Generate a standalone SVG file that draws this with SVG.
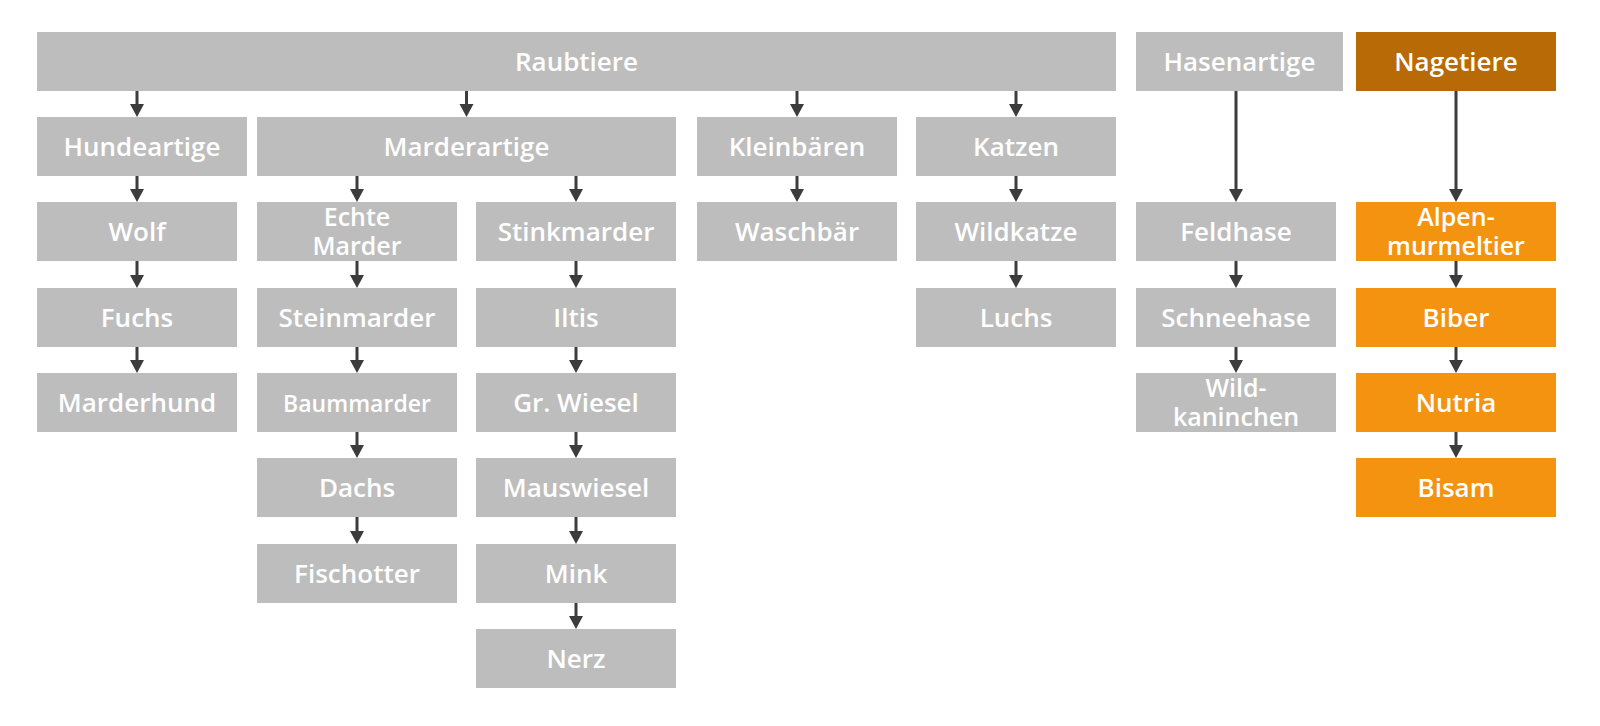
<svg xmlns="http://www.w3.org/2000/svg" width="1600" height="726" viewBox="0 0 1600 726">
<style>
.g{fill:#bdbdbd}
.o{fill:#f3930f}
.d{fill:#b86a06}
text{font-family:"Open Sans","Liberation Sans",sans-serif;font-weight:600;font-size:26px;fill:#ffffff;text-anchor:middle}
.t2{font-size:25px}
.ln{stroke:#3c3c3c;stroke-width:3;fill:none}
.ah{fill:#3c3c3c}
</style>
<rect width="1600" height="726" fill="#ffffff"/>
<g id="connectors">
<path class="ln" d="M137,91V106 M466.5,91V106 M797,91V106 M1016,91V106 M1236,91V191 M1456,91V191
M137,176V191 M137,261V277 M137,347V362
M357,176V191 M576,176V191
M357,261V277 M357,347V362 M357,432V447 M357,517V533
M576,261V277 M576,347V362 M576,432V447 M576,517V533 M576,603V618
M797,176V191 M1016,176V191 M1016,261V277
M1236,261V277 M1236,347V362
M1456,261V277 M1456,347V362 M1456,432V447"/>
<g class="ah">
<polygon points="130,104 144,104 137,117"/>
<polygon points="459.5,104 473.5,104 466.5,117"/>
<polygon points="790,104 804,104 797,117"/>
<polygon points="1009,104 1023,104 1016,117"/>
<polygon points="1229,189 1243,189 1236,202"/>
<polygon points="1449,189 1463,189 1456,202"/>
<polygon points="130,189 144,189 137,202"/>
<polygon points="130,275 144,275 137,288"/>
<polygon points="130,360 144,360 137,373"/>
<polygon points="350,189 364,189 357,202"/>
<polygon points="569,189 583,189 576,202"/>
<polygon points="350,275 364,275 357,288"/>
<polygon points="350,360 364,360 357,373"/>
<polygon points="350,445 364,445 357,458"/>
<polygon points="350,531 364,531 357,544"/>
<polygon points="569,275 583,275 576,288"/>
<polygon points="569,360 583,360 576,373"/>
<polygon points="569,445 583,445 576,458"/>
<polygon points="569,531 583,531 576,544"/>
<polygon points="569,616 583,616 576,629"/>
<polygon points="790,189 804,189 797,202"/>
<polygon points="1009,189 1023,189 1016,202"/>
<polygon points="1009,275 1023,275 1016,288"/>
<polygon points="1229,275 1243,275 1236,288"/>
<polygon points="1229,360 1243,360 1236,373"/>
<polygon points="1449,275 1463,275 1456,288"/>
<polygon points="1449,360 1463,360 1456,373"/>
<polygon points="1449,445 1463,445 1456,458"/>
</g>
</g>
<g id="raubtiere"><rect class="g" x="37" y="32" width="1079" height="59"/><text x="576.5" y="70.5">Raubtiere</text></g>
<g id="hasenartige"><rect class="g" x="1136" y="32" width="207" height="59"/><text x="1239.5" y="70.5">Hasenartige</text></g>
<g id="nagetiere"><rect class="d" x="1356" y="32" width="200" height="59"/><text x="1456" y="70.5">Nagetiere</text></g>

<g id="hundeartige"><rect class="g" x="37" y="117" width="210" height="59"/><text x="142" y="155.5">Hundeartige</text></g>
<g id="marderartige"><rect class="g" x="257" y="117" width="419" height="59"/><text x="466.5" y="155.5">Marderartige</text></g>
<g id="kleinbaeren"><rect class="g" x="697" y="117" width="200" height="59"/><text x="797" y="155.5">Kleinbären</text></g>
<g id="katzen"><rect class="g" x="916" y="117" width="200" height="59"/><text x="1016" y="155.5">Katzen</text></g>

<g id="wolf"><rect class="g" x="37" y="202" width="200" height="59"/><text x="137" y="240.5">Wolf</text></g>
<g id="echte-marder"><rect class="g" x="257" y="202" width="200" height="59"/><text class="t2" x="357" y="225.5">Echte<tspan x="357" dy="29">Marder</tspan></text></g>
<g id="stinkmarder"><rect class="g" x="476" y="202" width="200" height="59"/><text x="576" y="240.5">Stinkmarder</text></g>
<g id="waschbaer"><rect class="g" x="697" y="202" width="200" height="59"/><text x="797" y="240.5">Waschbär</text></g>
<g id="wildkatze"><rect class="g" x="916" y="202" width="200" height="59"/><text x="1016" y="240.5">Wildkatze</text></g>
<g id="feldhase"><rect class="g" x="1136" y="202" width="200" height="59"/><text x="1236" y="240.5">Feldhase</text></g>
<g id="alpenmurmeltier"><rect class="o" x="1356" y="202" width="200" height="59"/><text class="t2" x="1456" y="225.5">Alpen-<tspan x="1456" dy="29">murmeltier</tspan></text></g>

<g id="fuchs"><rect class="g" x="37" y="288" width="200" height="59"/><text x="137" y="326.5">Fuchs</text></g>
<g id="steinmarder"><rect class="g" x="257" y="288" width="200" height="59"/><text x="357" y="326.5">Steinmarder</text></g>
<g id="iltis"><rect class="g" x="476" y="288" width="200" height="59"/><text x="576" y="326.5">Iltis</text></g>
<g id="luchs"><rect class="g" x="916" y="288" width="200" height="59"/><text x="1016" y="326.5">Luchs</text></g>
<g id="schneehase"><rect class="g" x="1136" y="288" width="200" height="59"/><text x="1236" y="326.5">Schneehase</text></g>
<g id="biber"><rect class="o" x="1356" y="288" width="200" height="59"/><text x="1456" y="326.5">Biber</text></g>

<g id="marderhund"><rect class="g" x="37" y="373" width="200" height="59"/><text x="137" y="411.5">Marderhund</text></g>
<g id="baummarder"><rect class="g" x="257" y="373" width="200" height="59"/><text x="357" y="411.5" style="font-size:23px">Baummarder</text></g>
<g id="gr-wiesel"><rect class="g" x="476" y="373" width="200" height="59"/><text x="576" y="411.5">Gr. Wiesel</text></g>
<g id="wildkaninchen"><rect class="g" x="1136" y="373" width="200" height="59"/><text class="t2" x="1236" y="396.5">Wild-<tspan x="1236" dy="29">kaninchen</tspan></text></g>
<g id="nutria"><rect class="o" x="1356" y="373" width="200" height="59"/><text x="1456" y="411.5">Nutria</text></g>

<g id="dachs"><rect class="g" x="257" y="458" width="200" height="59"/><text x="357" y="496.5">Dachs</text></g>
<g id="mauswiesel"><rect class="g" x="476" y="458" width="200" height="59"/><text x="576" y="496.5">Mauswiesel</text></g>
<g id="bisam"><rect class="o" x="1356" y="458" width="200" height="59"/><text x="1456" y="496.5">Bisam</text></g>

<g id="fischotter"><rect class="g" x="257" y="544" width="200" height="59"/><text x="357" y="582.5">Fischotter</text></g>
<g id="mink"><rect class="g" x="476" y="544" width="200" height="59"/><text x="576" y="582.5">Mink</text></g>

<g id="nerz"><rect class="g" x="476" y="629" width="200" height="59"/><text x="576" y="667.5">Nerz</text></g>
</svg>
